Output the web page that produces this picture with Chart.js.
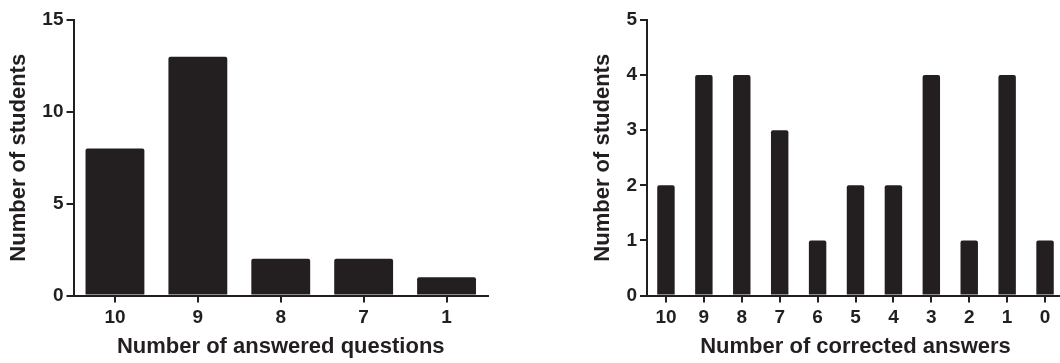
<!DOCTYPE html>
<html>
<head>
<meta charset="utf-8">
<script src="https://cdn.jsdelivr.net/npm/chart.js@4"></script>
<style>
  html, body { margin: 0; padding: 0; background: #ffffff; overflow: hidden; width: 1060px; height: 363px; }
  #c1 { position: absolute; left: 0; top: 0; }
  #c2 { position: absolute; left: 530px; top: 0; }
</style>
</head>
<body>
<canvas id="c1" width="530" height="363"></canvas>
<canvas id="c2" width="534" height="363"></canvas>
<script>
// ---- data ----
const answeredCategories = ['10', '9', '8', '7', '1'];
const answeredStudents = [8, 13, 2, 2, 1];
const correctedCategories = ['10', '9', '8', '7', '6', '5', '4', '3', '2', '1', '0'];
const correctedStudents = [2, 4, 4, 3, 1, 2, 2, 4, 1, 4, 1];
const leftYTicks = [0, 5, 10, 15];
const rightYTicks = [0, 1, 2, 3, 4, 5];
const yTitle = 'Number of students';
const leftXTitle = 'Number of answered questions';
const rightXTitle = 'Number of corrected answers';

const INK = '#231f20';
const FONT = '"Liberation Sans", Arial, Helvetica, sans-serif';

function makeChart(id, cats, vals, yTicks, xTitle, cfg) {
  const yMax = yTicks[yTicks.length - 1];
  const step = yTicks[1] - yTicks[0];
  return new Chart(document.getElementById(id), {
    type: 'bar',
    data: {
      labels: cats,
      datasets: [{
        data: vals,
        backgroundColor: INK,
        borderWidth: 0,
        borderRadius: 2,
        borderSkipped: 'bottom',
        barPercentage: cfg.barPct,
        categoryPercentage: 1.0
      }]
    },
    options: {
      responsive: false,
      animation: false,
      events: [],
      layout: { padding: { left: cfg.padLeft, right: cfg.padRight, top: 20, bottom: 0 } },
      plugins: { legend: { display: false }, tooltip: { enabled: false } },
      scales: {
        x: {
          offset: true,
          grid: { display: true, offset: false, drawOnChartArea: false, drawTicks: true, tickLength: 7, color: INK, lineWidth: 2 },
          border: { display: true, color: INK, width: 2 },
          ticks: { color: INK, font: { family: FONT, size: 19, weight: 'bold' }, padding: 4, maxRotation: 0, autoSkip: false },
          title: { display: true, text: xTitle, color: INK, font: { family: FONT, size: 22, weight: 'bold' }, padding: { top: 0, bottom: 3 } },
          afterFit: (s) => { s.height = cfg.xHeight; }
        },
        y: {
          min: 0, max: yMax,
          grid: { display: true, drawOnChartArea: false, drawTicks: true, tickLength: 7, color: INK, lineWidth: 2 },
          border: { display: true, color: INK, width: 2 },
          ticks: { stepSize: step, color: INK, font: { family: FONT, size: 19, weight: 'bold' }, padding: 3 },
          title: { display: true, text: yTitle, color: INK, font: { family: FONT, size: 22, weight: 'bold' }, padding: { top: 6, bottom: 0 } },
          afterFit: (s) => { s.width = cfg.yWidth; }
        }
      }
    }
  });
}

makeChart('c1', answeredCategories, answeredStudents, leftYTicks, leftXTitle,
  { barPct: 0.71, padLeft: 0, padRight: 42, yWidth: 73.5, xHeight: 67.5 });
makeChart('c2', correctedCategories, correctedStudents, rightYTicks, rightXTitle,
  { barPct: 0.46, padLeft: 53.5, padRight: 0, yWidth: 63.5, xHeight: 67.5 });
</script>
</body>
</html>
